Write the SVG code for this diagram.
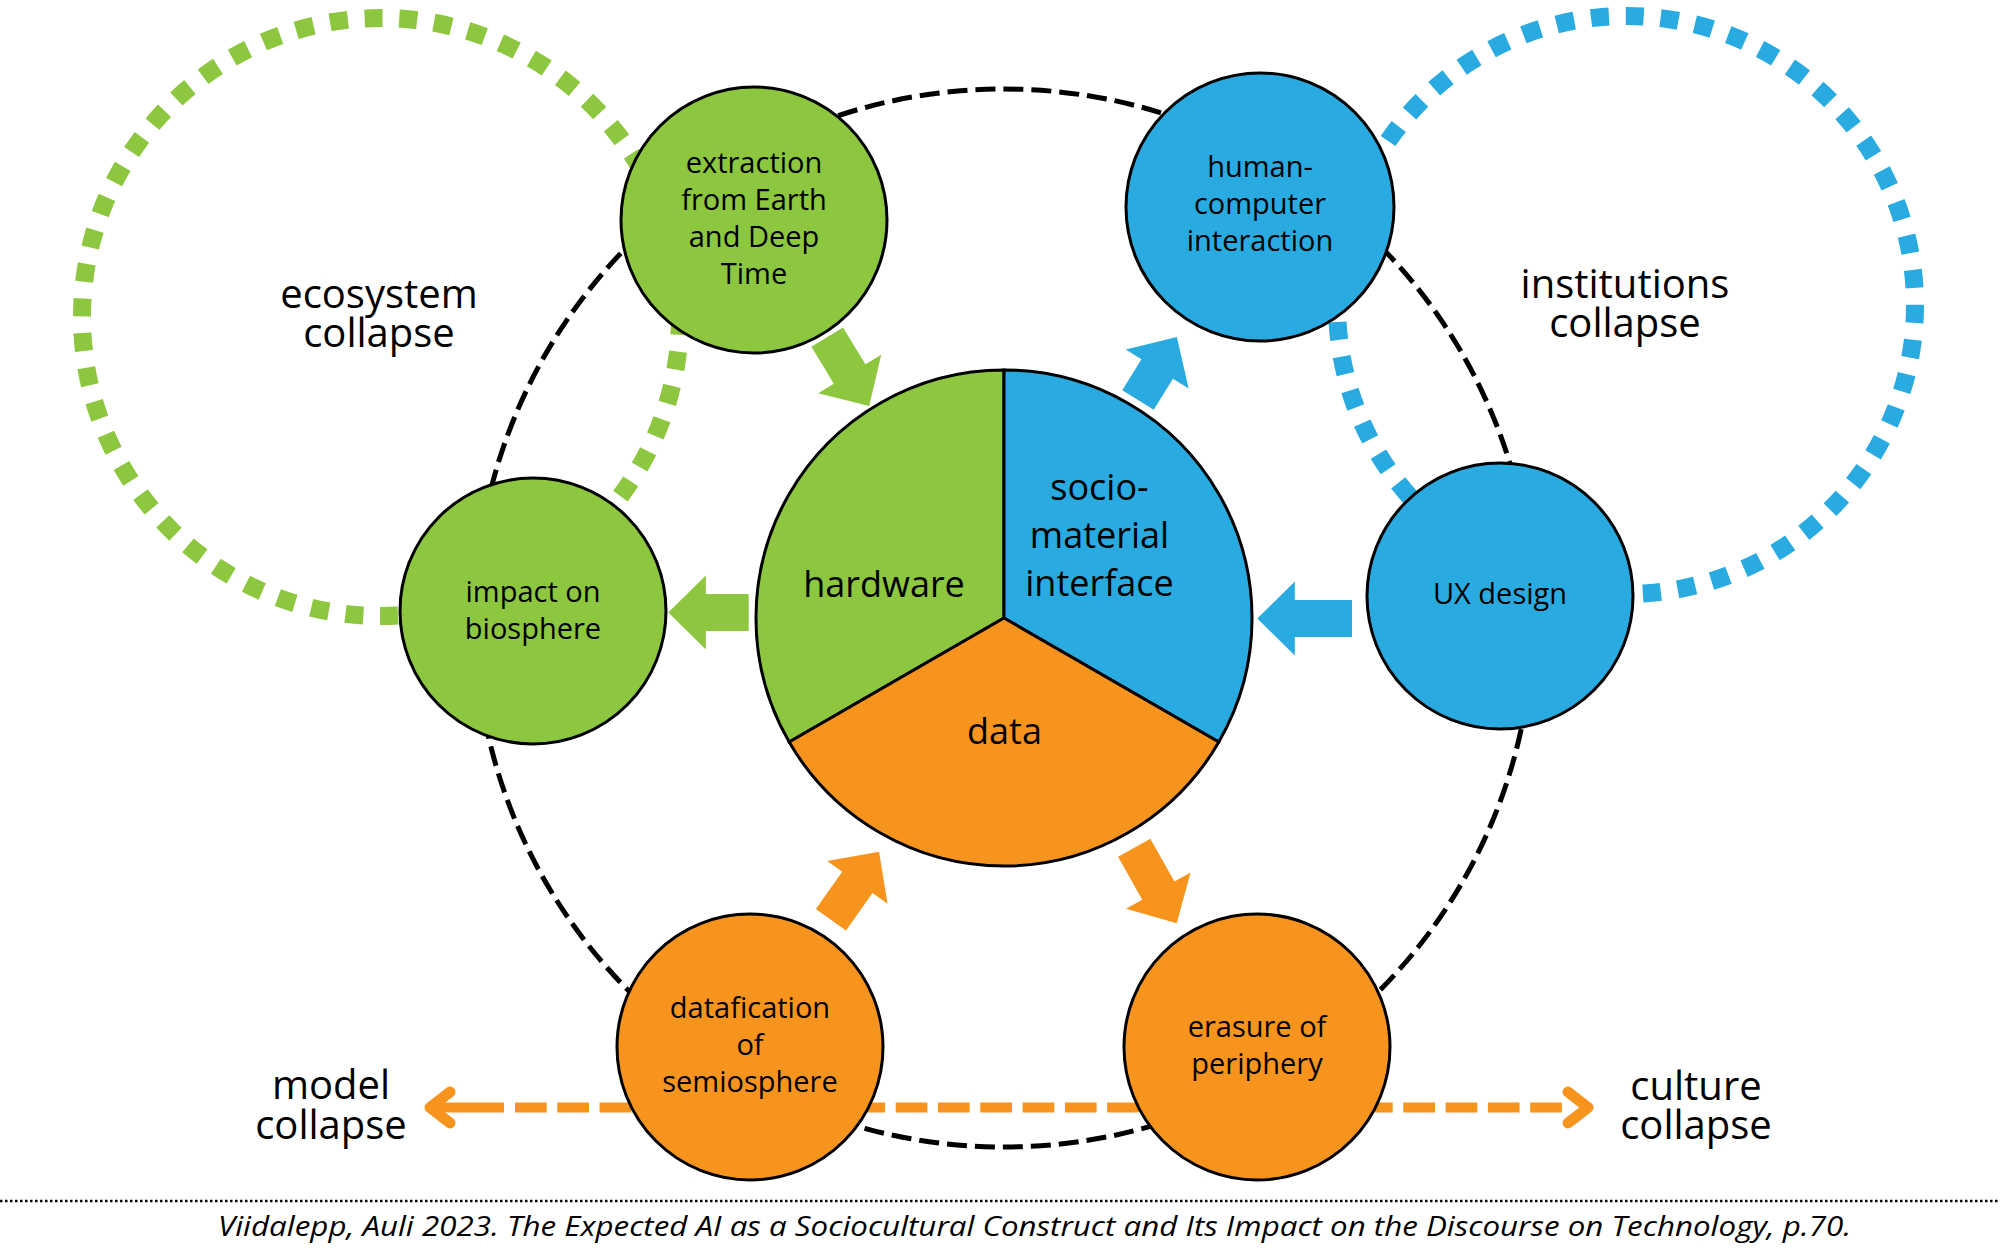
<svg xmlns="http://www.w3.org/2000/svg" width="2000" height="1250" viewBox="0 0 2000 1250">
  <style>
    text { font-family: 'Open Sans', 'Noto Sans', 'Liberation Sans', sans-serif; fill: #000; text-anchor: middle; }
    .node-label { font-size: 29px; }
    .pie-label { font-size: 36px; }
    .collapse-label { font-size: 40px; }
    .footer { font-size: 27px; font-style: italic; }
    .node { stroke: #000; stroke-width: 3; }
    .green { fill: #8DC63F; }
    .blue { fill: #29ABE2; }
    .orange { fill: #F7941D; }
    .loop { fill: none; stroke-width: 18; }
    .ring { fill: none; stroke: #000; stroke-width: 5; stroke-dasharray: 20 8; }
    .flow { stroke: none; }
    .spill { fill: none; stroke: #F7941D; stroke-width: 10; }
    .chevron { fill: none; stroke: #F7941D; stroke-width: 11; stroke-linecap: round; stroke-linejoin: round; }
  </style>
  <defs>
    <!-- open chevron head, pointing toward +x, tip at origin -->
    <path id="chevron" d="M-20,-15.5 L0,0 L-20,15.5"/>
  </defs>

  <rect x="0" y="0" width="2000" height="1250" fill="#fff"/>

  <!-- connectors: feedback loops, outer ring, spill-over line -->
  <g id="connectors">
    <circle class="loop" cx="381" cy="317" r="299" stroke="#8DC63F" stroke-dasharray="18 16.8"/>
    <circle class="loop" cx="1626" cy="305" r="289" stroke="#29ABE2" stroke-dasharray="18 16.9"/>
    <circle class="ring" cx="1004" cy="618" r="529"/>
    <line class="spill" x1="431" y1="1107.5" x2="504" y2="1107.5"/>
    <line class="spill" x1="515" y1="1107.5" x2="1563" y2="1107.5" stroke-dasharray="31.7 10.6"/>
    <use href="#chevron" class="chevron" transform="translate(1588,1107.5)"/>
    <use href="#chevron" class="chevron" transform="translate(430,1107.5) scale(-1,1)"/>
  </g>

  <!-- central pie -->
  <g id="node-core">
    <path class="node green" d="M1004,618 L1004,370 A248,248 0 0,0 789.2,742 Z"/>
    <path class="node blue" d="M1004,618 L1004,370 A248,248 0 0,1 1218.8,742 Z"/>
    <path class="node orange" d="M1004,618 L1218.8,742 A248,248 0 0,1 789.2,742 Z"/>
    <text class="pie-label" x="884" y="597">hardware</text>
    <text class="pie-label" x="1099.5" y="500"><tspan x="1099.5">socio-</tspan><tspan x="1099.5" dy="48">material</tspan><tspan x="1099.5" dy="48">interface</tspan></text>
    <text class="pie-label" x="1004.5" y="744">data</text>
  </g>

  <g id="node-extraction">
    <circle class="node green" cx="754" cy="220" r="133"/>
    <text class="node-label" x="754" y="173"><tspan x="754">extraction</tspan><tspan x="754" dy="37">from Earth</tspan><tspan x="754" dy="37">and Deep</tspan><tspan x="754" dy="37">Time</tspan></text>
  </g>

  <g id="node-impact">
    <circle class="node green" cx="533" cy="611" r="133"/>
    <text class="node-label" x="533" y="602"><tspan x="533">impact on</tspan><tspan x="533" dy="37">biosphere</tspan></text>
  </g>

  <g id="node-hci">
    <circle class="node blue" cx="1260" cy="207" r="134"/>
    <text class="node-label" x="1260" y="177"><tspan x="1260">human-</tspan><tspan x="1260" dy="37">computer</tspan><tspan x="1260" dy="37">interaction</tspan></text>
  </g>

  <g id="node-ux">
    <circle class="node blue" cx="1500" cy="596" r="133"/>
    <text class="node-label" x="1500" y="604">UX design</text>
  </g>

  <g id="node-datafication">
    <circle class="node orange" cx="750" cy="1047" r="133"/>
    <text class="node-label" x="750" y="1018"><tspan x="750">datafication</tspan><tspan x="750" dy="37">of</tspan><tspan x="750" dy="37">semiosphere</tspan></text>
  </g>

  <g id="node-erasure">
    <circle class="node orange" cx="1257" cy="1047" r="133"/>
    <text class="node-label" x="1257" y="1037"><tspan x="1257">erasure of</tspan><tspan x="1257" dy="37">periphery</tspan></text>
  </g>

  <!-- block arrows between nodes and the core -->
  <g id="flows">
    <path class="flow green" transform="translate(827.2,337.2) rotate(58.6)" d="M0,-18.5 H43.1 V-37 L80.6,0 L43.1,37 V18.5 H0 Z"/>
    <path class="flow blue" transform="translate(1138,400) rotate(-58.3)" d="M0,-18.5 H36.5 V-37 L74,0 L36.5,37 V18.5 H0 Z"/>
    <path class="flow green" transform="translate(748.7,612.5) rotate(180)" d="M0,-18.5 H42.9 V-37 L80.4,0 L42.9,37 V18.5 H0 Z"/>
    <path class="flow blue" transform="translate(1352,618.5) rotate(180)" d="M0,-18.5 H57.2 V-37 L94.7,0 L57.2,37 V18.5 H0 Z"/>
    <path class="flow orange" transform="translate(830.9,919.7) rotate(-54.7)" d="M0,-18.5 H45.8 V-37 L83.3,0 L45.8,37 V18.5 H0 Z"/>
    <path class="flow orange" transform="translate(1134.2,847.7) rotate(60.65)" d="M0,-18.5 H49.2 V-37 L86.7,0 L49.2,37 V18.5 H0 Z"/>
  </g>

  <g id="labels">
    <text class="collapse-label" x="379" y="308"><tspan x="379">ecosystem</tspan><tspan x="379" dy="39">collapse</tspan></text>
    <text class="collapse-label" x="1625" y="298"><tspan x="1625">institutions</tspan><tspan x="1625" dy="39">collapse</tspan></text>
    <text class="collapse-label" x="331" y="1099"><tspan x="331">model</tspan><tspan x="331" dy="40">collapse</tspan></text>
    <text class="collapse-label" x="1696" y="1100"><tspan x="1696">culture</tspan><tspan x="1696" dy="39">collapse</tspan></text>
  </g>

  <g id="footer">
    <line x1="0" y1="1201" x2="2000" y2="1201" stroke="#000" stroke-width="2.5" stroke-dasharray="2.5 2.5"/>
    <text class="footer" x="1034.5" y="1236" textLength="1633" lengthAdjust="spacingAndGlyphs">Viidalepp, Auli 2023. The Expected AI as a Sociocultural Construct and Its Impact on the Discourse on Technology, p.70.</text>
  </g>
</svg>
